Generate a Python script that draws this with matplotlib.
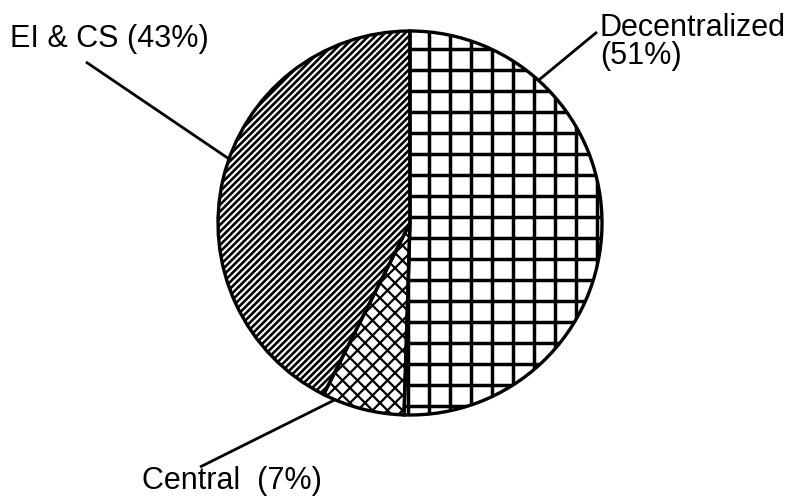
import numpy as np
import matplotlib
matplotlib.use("Agg")
import matplotlib.pyplot as plt
from matplotlib.collections import LineCollection

plt.rcParams["font.family"] = ["Liberation Sans", "DejaVu Sans"]

# share of work by organisation type
names = ["Decentralized", "Central", "EI & CS"]
shares = [51, 7, 43]
seps = ["\n", "  ", " "]

W, H = 791, 497
cx, cy, r = 410, H - 223, 192


def hatch(ax, patch, angle, step, lw, phase=0.0):
    t = np.deg2rad(angle)
    d = np.array([np.cos(t), np.sin(t)])
    n = np.array([-np.sin(t), np.cos(t)])
    c = np.array([cx, cy])
    ks = np.arange(-int(r / step) - 3, int(r / step) + 4)
    segs = [[c + (k * step + phase) * n - 1.5 * r * d,
             c + (k * step + phase) * n + 1.5 * r * d] for k in ks]
    lc = LineCollection(segs, colors="black", linewidths=lw, zorder=1)
    ax.add_collection(lc)
    lc.set_clip_path(patch)


fig = plt.figure(figsize=(W / 100, H / 100), dpi=100)
ax = fig.add_axes([0, 0, 1, 1])

wedges, _ = ax.pie(shares, center=(cx, cy), radius=r, startangle=90,
                   counterclock=False, frame=True,
                   wedgeprops=dict(facecolor="none", edgecolor="black",
                                   linewidth=2.4, zorder=2))

# decentralized: square grid, central: cross hatch, EI & CS: dense diagonals
hatch(ax, wedges[0], 0, 21, 2.5, phase=6)
hatch(ax, wedges[0], 90, 21, 2.5, phase=2)
hatch(ax, wedges[1], 45, 10.6, 1.6)
hatch(ax, wedges[1], -45, 10.6, 1.6)
hatch(ax, wedges[2], 45, 4.75, 1.9)

ax.set_aspect("auto")
ax.set_xlim(0, W)
ax.set_ylim(0, H)
ax.axis("off")

# labels and leader lines
text_pos = [(600, H - 13), (142, H - 466), (10, H - 24)]
line_start = [(597, H - 32), (200, H - 467), (86, H - 62)]
line_angle = [48, -113, 160.5]

for name, v, sep, (tx, ty), (lx, ly), ang in zip(
        names, shares, seps, text_pos, line_start, line_angle):
    ax.text(tx, ty, f"{name}{sep}({v}%)", fontsize=22, ha="left", va="top",
            linespacing=0.92)
    a = np.deg2rad(ang)
    ax.plot([lx, cx + r * np.cos(a)], [ly, cy + r * np.sin(a)],
            color="black", lw=2.0, solid_capstyle="butt")

fig.savefig("out.png", dpi=100, facecolor="white")
